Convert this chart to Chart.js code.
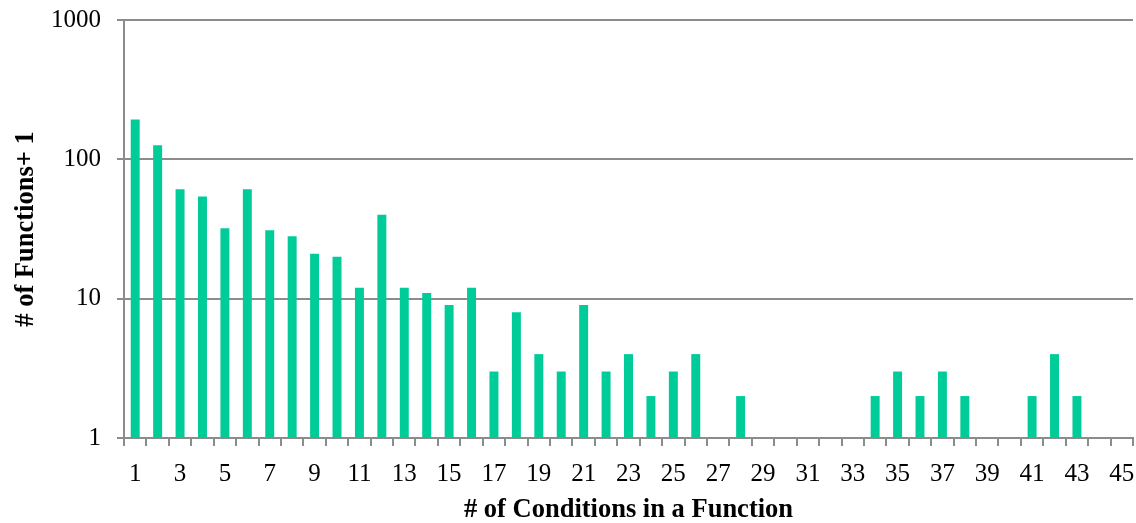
<!DOCTYPE html>
<html>
<head>
<meta charset="utf-8">
<script src="https://cdn.jsdelivr.net/npm/chart.js@4"></script>
<style>
  html, body { margin: 0; padding: 0; background: #fff; }
  #wrap { width: 1136px; height: 523px; }
</style>
</head>
<body>
<div id="wrap"><canvas id="chart"></canvas></div>
<script>
// Nombre de conditions par fonction (1..45)
const conditions = [];
for (let i = 1; i <= 45; i++) conditions.push(String(i));

// Nombre de fonctions + 1
const functionsPlusOne = [
    193, 126, 61, 54, 32, 61, 31, 28, 21, 20,
    12, 40, 12, 11, 9, 12, 3, 8, 4, 3,
    9, 3, 4, 2, 3, 4, 1, 2, 1, 1,
    1, 1, 1, 2, 3, 2, 3, 2, 1, 1,
    2, 4, 2, 1, 1
];

const yTicks = [1, 10, 100, 1000];

const serif = "'Liberation Serif', 'Times New Roman', serif";
const gridColor = '#8c8c8c';

const ctx = document.getElementById('chart').getContext('2d');
new Chart(ctx, {
    type: 'bar',
    data: {
        labels: conditions,
        datasets: [{
            data: functionsPlusOne,
            backgroundColor: '#00cc99',
            borderWidth: 0,
            barPercentage: 0.8,
            categoryPercentage: 0.5
        }]
    },
    options: {
        responsive: true,
        maintainAspectRatio: false,
        animation: false,
        layout: { padding: { top: 20, right: 3, left: 0, bottom: 0 } },
        plugins: {
            legend: { display: false },
            tooltip: { enabled: false }
        },
        scales: {
            x: {
                grid: {
                    offset: true,
                    drawOnChartArea: false,
                    color: gridColor,
                    tickLength: 8,
                    lineWidth: 2
                },
                border: { color: gridColor, width: 2 },
                ticks: {
                    autoSkip: false,
                    maxRotation: 0,
                    color: '#000',
                    padding: 13,
                    font: { family: serif, size: 25 },
                    callback: function (value, index) {
                        return index % 2 === 0 ? conditions[index] : '';
                    }
                },
                title: {
                    display: true,
                    text: '# of Conditions in a Function',
                    color: '#000',
                    font: { family: serif, size: 26.5, weight: 'bold' },
                    padding: { top: 4, bottom: -3 }
                },
                afterFit: function (scale) {
                    scale.height = 85;
                    scale.paddingLeft = 0;
                    scale.paddingRight = 0;
                }
            },
            y: {
                type: 'logarithmic',
                min: 1,
                max: 1000,
                grid: {
                    color: gridColor,
                    lineWidth: 2,
                    tickLength: 7
                },
                border: { color: gridColor, width: 2 },
                afterBuildTicks: function (scale) {
                    scale.ticks = yTicks.map(v => ({ value: v }));
                },
                ticks: {
                    color: '#000',
                    padding: 16,
                    font: { family: serif, size: 25 },
                    callback: function (value) { return String(value); }
                },
                title: {
                    display: true,
                    text: '# of Functions+ 1',
                    color: '#000',
                    font: { family: serif, size: 26.5, weight: 'bold' },
                    padding: { top: 10, bottom: 0 }
                },
                afterFit: function (scale) {
                    scale.width = 124;
                    scale.paddingTop = 0;
                    scale.paddingBottom = 0;
                }
            }
        }
    }
});
</script>
</body>
</html>
